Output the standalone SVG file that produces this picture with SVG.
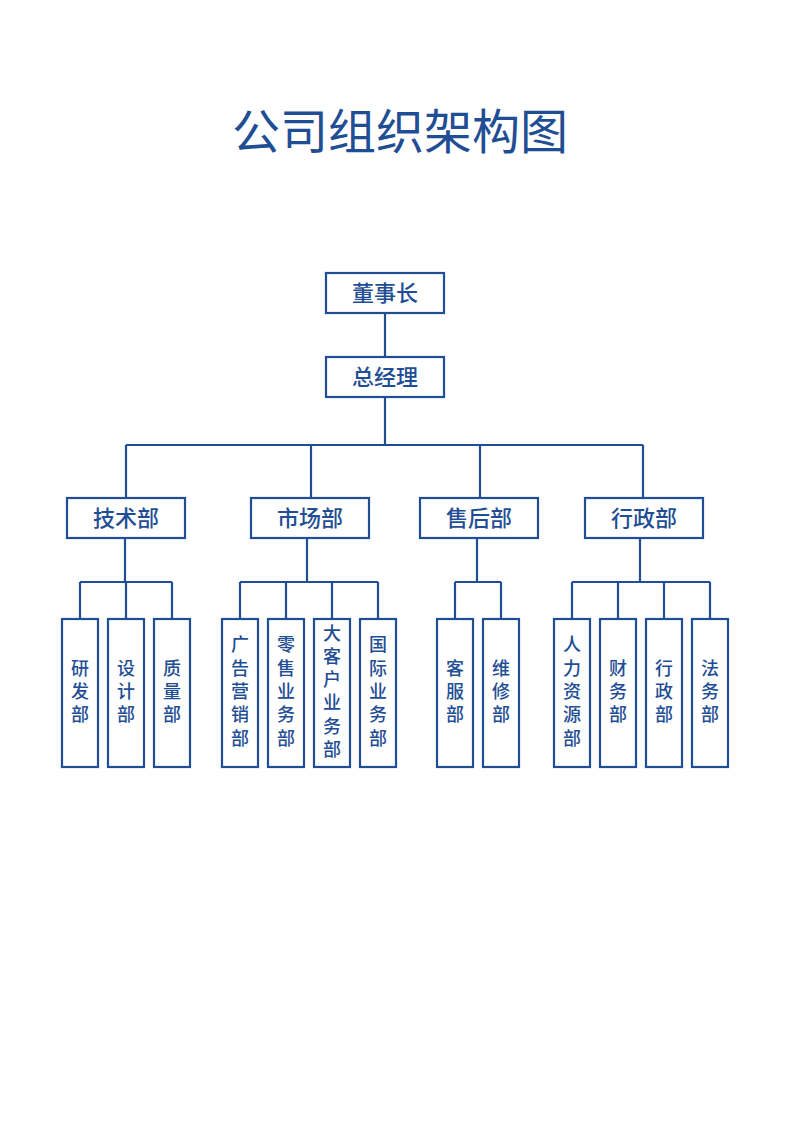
<svg xmlns="http://www.w3.org/2000/svg" width="800" height="1131" viewBox="0 0 800 1131">
<style>
rect{fill:#fff;stroke:#1f4e94;stroke-width:2.2}
text{font-family:"Noto Sans CJK SC",sans-serif;fill:#1f4e94;text-anchor:middle;font-weight:500}
.h{font-size:22px}
.v{font-size:18px}
#c path{fill:none;stroke:#1f4e94;stroke-width:2.2}
</style>
<rect x="0" y="0" width="800" height="1131" style="stroke:none"/>
<text x="400" y="149" style="font-size:48px;font-weight:400">公司组织架构图</text>
<g id="c">
<path d="M385 313V357M385 397V445M126 445H643M126 445V498M311 445V498M480 445V498M643 445V498"/>
<path d="M125 538V582M80 582H172M80 582V619M126 582V619M172 582V619"/>
<path d="M307 538V582M240 582H378M240 582V619M286 582V619M332 582V619M378 582V619"/>
<path d="M477 538V582M455 582H501M455 582V619M501 582V619"/>
<path d="M640 538V582M572 582H710M572 582V619M618 582V619M664 582V619M710 582V619"/>
</g>
<g id="n0"><rect x="326" y="273" width="118" height="40"/><text class="h" x="385" y="301">董事长</text></g>
<g id="n1"><rect x="326" y="357" width="118" height="40"/><text class="h" x="385" y="385">总经理</text></g>
<g id="d1"><rect x="67" y="498" width="118" height="40"/><text class="h" x="126" y="526">技术部</text></g>
<g id="d2"><rect x="251" y="498" width="118" height="40"/><text class="h" x="310" y="526">市场部</text></g>
<g id="d3"><rect x="420" y="498" width="118" height="40"/><text class="h" x="479" y="526">售后部</text></g>
<g id="d4"><rect x="585" y="498" width="118" height="40"/><text class="h" x="644" y="526">行政部</text></g>
<g id="s1"><rect x="62" y="619" width="36" height="148"/><text class="v" x="80"><tspan x="80" y="675">研</tspan><tspan x="80" y="698">发</tspan><tspan x="80" y="721">部</tspan></text></g>
<g id="s2"><rect x="108" y="619" width="36" height="148"/><text class="v"><tspan x="126" y="675">设</tspan><tspan x="126" y="698">计</tspan><tspan x="126" y="721">部</tspan></text></g>
<g id="s3"><rect x="154" y="619" width="36" height="148"/><text class="v"><tspan x="172" y="675">质</tspan><tspan x="172" y="698">量</tspan><tspan x="172" y="721">部</tspan></text></g>
<g id="s4"><rect x="222" y="619" width="36" height="148"/><text class="v"><tspan x="240" y="651">广</tspan><tspan x="240" y="675">告</tspan><tspan x="240" y="698">营</tspan><tspan x="240" y="721">销</tspan><tspan x="240" y="745">部</tspan></text></g>
<g id="s5"><rect x="268" y="619" width="36" height="148"/><text class="v"><tspan x="286" y="651">零</tspan><tspan x="286" y="675">售</tspan><tspan x="286" y="698">业</tspan><tspan x="286" y="721">务</tspan><tspan x="286" y="745">部</tspan></text></g>
<g id="s6"><rect x="314" y="619" width="36" height="148"/><text class="v"><tspan x="332" y="640">大</tspan><tspan x="332" y="663">客</tspan><tspan x="332" y="686">户</tspan><tspan x="332" y="709">业</tspan><tspan x="332" y="733">务</tspan><tspan x="332" y="756">部</tspan></text></g>
<g id="s7"><rect x="360" y="619" width="36" height="148"/><text class="v"><tspan x="378" y="651">国</tspan><tspan x="378" y="675">际</tspan><tspan x="378" y="698">业</tspan><tspan x="378" y="721">务</tspan><tspan x="378" y="745">部</tspan></text></g>
<g id="s8"><rect x="437" y="619" width="36" height="148"/><text class="v"><tspan x="455" y="675">客</tspan><tspan x="455" y="698">服</tspan><tspan x="455" y="721">部</tspan></text></g>
<g id="s9"><rect x="483" y="619" width="36" height="148"/><text class="v"><tspan x="501" y="675">维</tspan><tspan x="501" y="698">修</tspan><tspan x="501" y="721">部</tspan></text></g>
<g id="s10"><rect x="554" y="619" width="36" height="148"/><text class="v"><tspan x="572" y="651">人</tspan><tspan x="572" y="675">力</tspan><tspan x="572" y="698">资</tspan><tspan x="572" y="721">源</tspan><tspan x="572" y="745">部</tspan></text></g>
<g id="s11"><rect x="600" y="619" width="36" height="148"/><text class="v"><tspan x="618" y="675">财</tspan><tspan x="618" y="698">务</tspan><tspan x="618" y="721">部</tspan></text></g>
<g id="s12"><rect x="646" y="619" width="36" height="148"/><text class="v"><tspan x="664" y="675">行</tspan><tspan x="664" y="698">政</tspan><tspan x="664" y="721">部</tspan></text></g>
<g id="s13"><rect x="692" y="619" width="36" height="148"/><text class="v"><tspan x="710" y="675">法</tspan><tspan x="710" y="698">务</tspan><tspan x="710" y="721">部</tspan></text></g>
</svg>
